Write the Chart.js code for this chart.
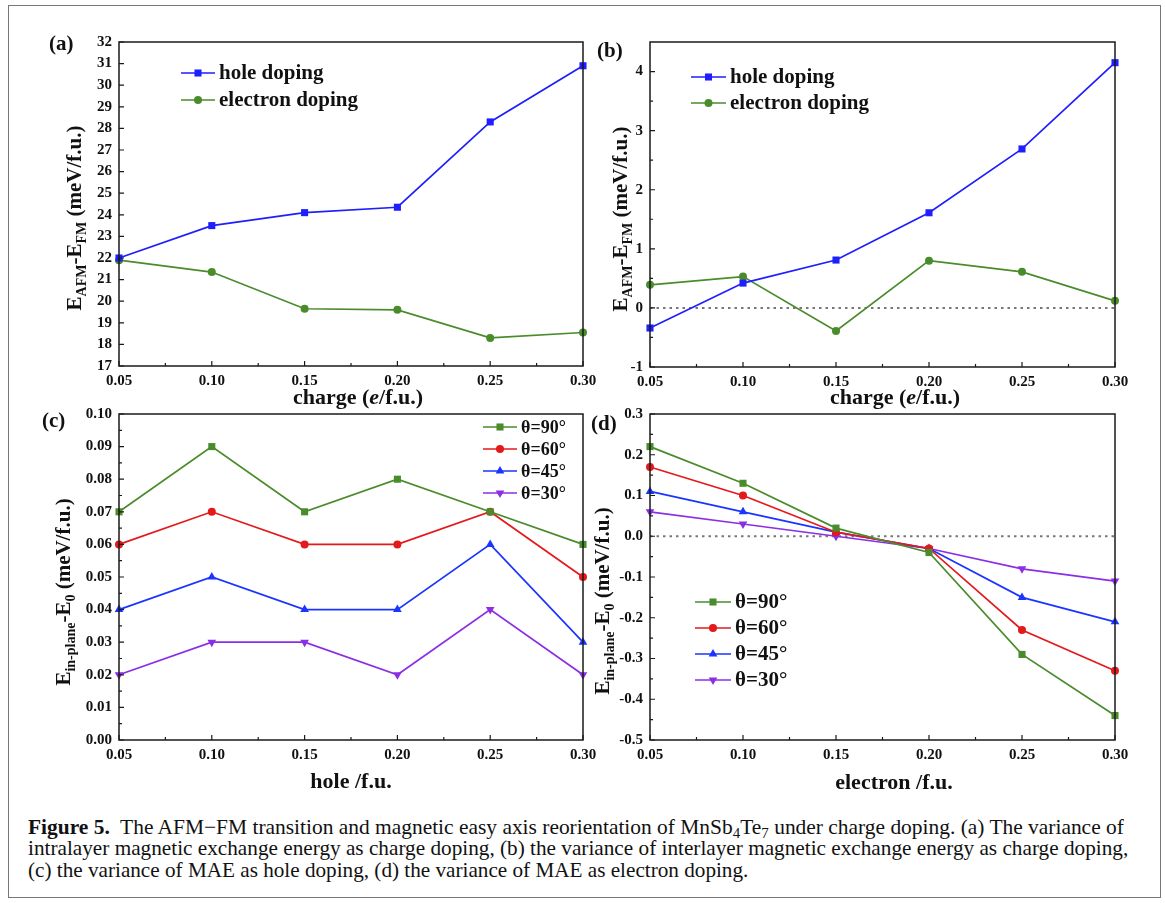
<!DOCTYPE html>
<html>
<head>
<meta charset="utf-8">
<script src="https://cdn.jsdelivr.net/npm/chart.js@4.4.0/dist/chart.umd.min.js"></script>
<style>
  body { margin: 0; background: #fff; width: 1165px; height: 903px; overflow: hidden; position: relative; font-family: "Liberation Serif", serif; }
  .frame { position: absolute; left: 8px; top: 5px; width: 1151px; height: 891px; border: 1px solid #777; }
  canvas { position: absolute; }
  .cap { position: absolute; left: 28px; white-space: nowrap; font-size: 21px; line-height: 22px; color: #111; transform-origin: 0 50%; }
  .cap sub { font-size: 0.7em; vertical-align: -0.25em; line-height: 0; }
</style>
</head>
<body>
<div class="frame"></div>
<canvas id="chartA" width="600" height="415" style="left:0;top:0"></canvas>
<canvas id="chartB" width="560" height="415" style="left:590px;top:0"></canvas>
<canvas id="chartC" width="600" height="400" style="left:0;top:400px"></canvas>
<canvas id="chartD" width="560" height="400" style="left:590px;top:400px"></canvas>

<div class="cap" id="cap1" style="top:816px"><b>Figure 5.</b>&nbsp; The AFM&minus;FM transition and magnetic easy axis reorientation of MnSb<sub>4</sub>Te<sub>7</sub> under charge doping. (a) The variance of</div>
<div class="cap" id="cap2" style="top:837px">intralayer magnetic exchange energy as charge doping, (b) the variance of interlayer magnetic exchange energy as charge doping,</div>
<div class="cap" id="cap3" style="top:859px">(c) the variance of MAE as hole doping, (d) the variance of MAE as electron doping.</div>

<script>
// x categories (doping level)
const charges = ['0.05', '0.10', '0.15', '0.20', '0.25', '0.30'];

// (a) intralayer exchange energy
const intraHole = [22.0, 23.5, 24.1, 24.35, 28.3, 30.9];
const intraElectron = [21.9, 21.35, 19.65, 19.6, 18.3, 18.55];

// (b) interlayer exchange energy
const interHole = [-0.34, 0.42, 0.81, 1.61, 2.69, 4.15];
const interElectron = [0.39, 0.53, -0.39, 0.80, 0.61, 0.12];

// (c) MAE vs hole doping
const holeT90 = [0.07, 0.09, 0.07, 0.08, 0.07, 0.06];
const holeT60 = [0.06, 0.07, 0.06, 0.06, 0.07, 0.05];
const holeT45 = [0.04, 0.05, 0.04, 0.04, 0.06, 0.03];
const holeT30 = [0.02, 0.03, 0.03, 0.02, 0.04, 0.02];

// (d) MAE vs electron doping
const elecT90 = [0.22, 0.13, 0.02, -0.04, -0.29, -0.44];
const elecT60 = [0.17, 0.10, 0.01, -0.03, -0.23, -0.33];
const elecT45 = [0.11, 0.06, 0.01, -0.03, -0.15, -0.21];
const elecT30 = [0.06, 0.03, 0.00, -0.03, -0.08, -0.11];

const dopingLabels = ['hole doping', 'electron doping'];
const angleLabels = ['θ=90°', 'θ=60°', 'θ=45°', 'θ=30°'];

const BLUE = '#1e1eff', GREEN = '#4a8b2c', RED = '#e3191b', BLUE2 = '#1a35ff', PURPLE = '#8b2ee6';
const FONT = '"Liberation Serif", "Times New Roman", serif';
const YW = 40, XH = 20;

function series(label, data, color, style, rot) {
    return {
        label: label,
        data: data,
        borderColor: color,
        backgroundColor: color,
        borderWidth: 1.7,
        pointStyle: style,
        pointRotation: rot || 0,
        pointRadius: style === 'circle' ? 4 : 5,
        pointBorderWidth: 0,
        pointHoverRadius: 0,
        tension: 0
    };
}

function drawMarker(ctx, ds, x, y) {
    ctx.fillStyle = ds.backgroundColor;
    if (Chart.helpers && Chart.helpers.drawPoint) {
        Chart.helpers.drawPoint(ctx, {pointStyle: ds.pointStyle, radius: ds.pointRadius, rotation: ds.pointRotation, borderWidth: 0}, x, y);
    } else {
        ctx.beginPath(); ctx.arc(x, y, ds.pointRadius, 0, Math.PI * 2); ctx.fill();
    }
}

function drawRich(ctx, parts, cx, cy, size, rotate) {
    ctx.save();
    ctx.translate(cx, cy);
    if (rotate) ctx.rotate(-Math.PI / 2);
    ctx.textBaseline = 'middle';
    ctx.textAlign = 'left';
    ctx.fillStyle = '#111';
    const fontOf = p => (p.it ? 'italic ' : '') + 'bold ' + (p.sub ? Math.round(size * 0.66) : size) + 'px ' + FONT;
    let total = 0;
    parts.forEach(p => { ctx.font = fontOf(p); total += ctx.measureText(p.t).width; });
    let x = -total / 2;
    parts.forEach(p => {
        ctx.font = fontOf(p);
        ctx.fillText(p.t, x, p.sub ? size * 0.3 : 0);
        x += ctx.measureText(p.t).width;
    });
    ctx.restore();
}

// frame, inward ticks, zero line, legend and titles
const panelPlugin = {
    id: 'panel',
    beforeDatasetsDraw(chart, args, o) {
        if (!o.zeroLine) return;
        const ctx = chart.ctx, ca = chart.chartArea;
        const py = chart.scales.y.getPixelForValue(0);
        ctx.save();
        ctx.strokeStyle = '#777';
        ctx.lineWidth = 2;
        ctx.setLineDash([2.5, 4]);
        ctx.beginPath(); ctx.moveTo(ca.left, py); ctx.lineTo(ca.right, py); ctx.stroke();
        ctx.restore();
    },
    afterDatasetsDraw(chart, args, o) {
        const ctx = chart.ctx, ca = chart.chartArea;
        const xs = chart.scales.x, ys = chart.scales.y;
        ctx.save();
        ctx.strokeStyle = '#1a1a1a';
        ctx.lineWidth = 1.5;
        ctx.strokeRect(ca.left, ca.top, ca.right - ca.left, ca.bottom - ca.top);

        ctx.lineWidth = 1.2;
        ctx.beginPath();
        const yp = ys.ticks.map(t => ys.getPixelForValue(t.value));
        yp.forEach(p => { ctx.moveTo(ca.left, p); ctx.lineTo(ca.left + 5, p); });
        if (o.minorY) {
            for (let i = 0; i < yp.length - 1; i++) {
                const m = (yp[i] + yp[i + 1]) / 2;
                ctx.moveTo(ca.left, m); ctx.lineTo(ca.left + 3, m);
            }
            const last = yp[yp.length - 1] - (yp[0] - yp[1]) / 2;
            if (last > ca.top + 2) { ctx.moveTo(ca.left, last); ctx.lineTo(ca.left + 3, last); }
        }
        const xp = chart.data.labels.map((l, i) => xs.getPixelForTick(i));
        xp.forEach(p => { ctx.moveTo(p, ca.bottom); ctx.lineTo(p, ca.bottom - 5); });
        for (let i = 0; i < xp.length - 1; i++) {
            const m = (xp[i] + xp[i + 1]) / 2;
            ctx.moveTo(m, ca.bottom); ctx.lineTo(m, ca.bottom - 3);
        }
        ctx.stroke();

        // legend
        const lg = o.legend;
        chart.data.datasets.forEach((ds, i) => {
            const y = lg.y + i * lg.gap;
            ctx.strokeStyle = ds.borderColor;
            ctx.lineWidth = 1.7;
            ctx.beginPath(); ctx.moveTo(lg.x, y); ctx.lineTo(lg.x + lg.len, y); ctx.stroke();
            drawMarker(ctx, ds, lg.x + lg.len / 2, y);
            ctx.fillStyle = '#111';
            ctx.font = 'bold ' + lg.size + 'px ' + FONT;
            ctx.textBaseline = 'middle';
            ctx.textAlign = 'left';
            ctx.fillText(ds.label, lg.x + lg.len + 4, y + 1);
        });

        // panel letter
        ctx.fillStyle = '#111';
        ctx.font = 'bold 21px ' + FONT;
        ctx.textBaseline = 'middle';
        ctx.fillText(o.letter.t, o.letter.x, o.letter.y);
        ctx.restore();

        drawRich(ctx, o.yTitle.parts, o.yTitle.x, o.yTitle.y, 21, true);
        drawRich(ctx, o.xTitle.parts, o.xTitle.x, o.xTitle.y, 22, false);
    }
};

function makeChart(id, datasets, yAxis, p) {
    const cv = document.getElementById(id);
    const W = cv.width, H = cv.height, a = p.area;
    const tickFont = {family: FONT, weight: 'bold', size: 15};
    return new Chart(cv, {
        type: 'line',
        data: {labels: charges, datasets: datasets},
        options: {
            responsive: false,
            animation: false,
            devicePixelRatio: 1,
            events: [],
            layout: {padding: {left: a.left - YW, top: a.top, right: W - a.right, bottom: H - a.bottom - XH}},
            plugins: {legend: {display: false}, tooltip: {enabled: false}, panel: p},
            scales: {
                x: {
                    type: 'category',
                    offset: false,
                    grid: {display: false, drawTicks: false},
                    border: {display: false},
                    ticks: {font: tickFont, color: '#111', padding: 6, maxRotation: 0, autoSkip: false},
                    afterFit: s => { s.height = XH; s.paddingLeft = 0; s.paddingRight = 0; }
                },
                y: {
                    min: yAxis.min,
                    max: yAxis.max,
                    grid: {display: false, drawTicks: false},
                    border: {display: false},
                    ticks: {
                        font: tickFont, color: '#111', padding: 7,
                        stepSize: yAxis.step, includeBounds: false,
                        callback: v => Number(v).toFixed(yAxis.dec)
                    },
                    afterFit: s => { s.width = YW; s.paddingTop = 0; s.paddingBottom = 0; }
                }
            }
        },
        plugins: [panelPlugin]
    });
}

const yTitleAB = [{t: 'E'}, {t: 'AFM', sub: 1}, {t: '-E'}, {t: 'FM', sub: 1}, {t: ' (meV/f.u.)'}];
const yTitleCD = [{t: 'E'}, {t: 'in-plane', sub: 1}, {t: '-E'}, {t: '0', sub: 1}, {t: ' (meV/f.u.)'}];
const xTitleAB = [{t: 'charge ('}, {t: 'e', it: 1}, {t: '/f.u.)'}];

// (a)
makeChart('chartA', [
    series(dopingLabels[0], intraHole, BLUE, 'rect'),
    series(dopingLabels[1], intraElectron, GREEN, 'circle')
], {min: 17, max: 32, step: 1, dec: 0}, {
    area: {left: 119, top: 42, right: 583, bottom: 366},
    minorY: false, zeroLine: false,
    legend: {x: 181, y: 73, gap: 27, len: 34, size: 21},
    letter: {t: '(a)', x: 49, y: 45},
    yTitle: {parts: yTitleAB, x: 76, y: 218},
    xTitle: {parts: xTitleAB, x: 358, y: 398}
});

// (b)
makeChart('chartB', [
    series(dopingLabels[0], interHole, BLUE, 'rect'),
    series(dopingLabels[1], interElectron, GREEN, 'circle')
], {min: -1, max: 4.5, step: 1, dec: 0}, {
    area: {left: 60, top: 42, right: 525, bottom: 367},
    minorY: true, zeroLine: true,
    legend: {x: 101, y: 77, gap: 26, len: 35, size: 21},
    letter: {t: '(b)', x: 7, y: 52},
    yTitle: {parts: yTitleAB, x: 32, y: 219},
    xTitle: {parts: xTitleAB, x: 305, y: 398}
});

// (c)
makeChart('chartC', [
    series(angleLabels[0], holeT90, GREEN, 'rect'),
    series(angleLabels[1], holeT60, RED, 'circle'),
    series(angleLabels[2], holeT45, BLUE2, 'triangle'),
    series(angleLabels[3], holeT30, PURPLE, 'triangle', 180)
], {min: 0, max: 0.1, step: 0.01, dec: 2}, {
    area: {left: 119, top: 14, right: 583, bottom: 340},
    minorY: true, zeroLine: false,
    legend: {x: 483, y: 27, gap: 22, len: 34, size: 18},
    letter: {t: '(c)', x: 42, y: 22},
    yTitle: {parts: yTitleCD, x: 65, y: 192},
    xTitle: {parts: [{t: 'hole /f.u.'}], x: 351, y: 382}
});

// (d)
makeChart('chartD', [
    series(angleLabels[0], elecT90, GREEN, 'rect'),
    series(angleLabels[1], elecT60, RED, 'circle'),
    series(angleLabels[2], elecT45, BLUE2, 'triangle'),
    series(angleLabels[3], elecT30, PURPLE, 'triangle', 180)
], {min: -0.5, max: 0.3, step: 0.1, dec: 1}, {
    area: {left: 60, top: 14, right: 525, bottom: 340},
    minorY: true, zeroLine: true,
    legend: {x: 105, y: 202, gap: 26, len: 36, size: 21},
    letter: {t: '(d)', x: 1, y: 25},
    yTitle: {parts: yTitleCD, x: 14, y: 201},
    xTitle: {parts: [{t: 'electron /f.u.'}], x: 304, y: 383}
});

// fit caption lines to their widths in the figure
[['cap1', 1096], ['cap2', 1100], ['cap3', 720]].forEach(([id, w]) => {
    const el = document.getElementById(id);
    el.style.transform = 'scaleX(' + (w / el.offsetWidth) + ')';
});
</script>
</body>
</html>
